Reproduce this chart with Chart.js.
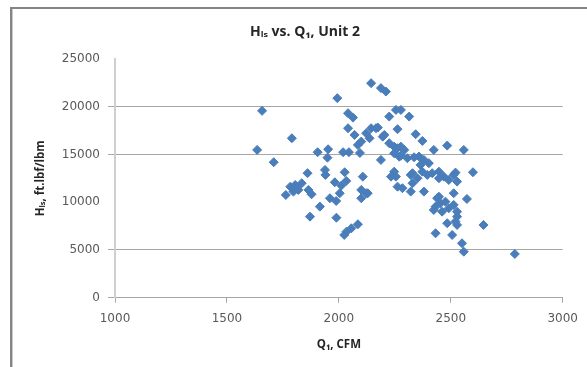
<!DOCTYPE html>
<html>
<head>
<meta charset="utf-8">
<script src="https://cdn.jsdelivr.net/npm/chart.js@4"></script>
<style>
  html, body { margin: 0; padding: 0; background: #ffffff; }
  #c { display: block; }
</style>
</head>
<body>
<canvas id="c" width="587" height="367"></canvas>
<script>
const chartTitle = 'Hₗₛ vs. Q₁, Unit 2';
const xAxisTitle = 'Q₁, CFM';
const yAxisTitle = 'Hₗₛ, ft.lbf/lbm';

const xTicks = [1000, 1500, 2000, 2500, 3000];
const yTicks = [0, 5000, 10000, 15000, 20000, 25000];

const q1Cfm = [
  1635, 1657, 1709, 1790, 1763, 1783, 1797, 1805, 1819, 1834,
  1860, 1864, 1878, 1871, 1905, 1915, 1938, 1940, 1949, 1952,
  1960, 1982, 1988, 1989, 1993, 2004, 2011, 2019, 2026, 2033,
  2041, 2041, 2045, 2063, 2070, 2085, 2100, 2094, 2107, 2100,
  2122, 2100, 2085, 2056, 2034, 2024, 2144, 2188, 2210, 2144,
  2174, 2122, 2137, 2196, 2225, 2247, 2262, 2277, 2292, 2188,
  2247, 2277, 2306, 2255, 2277, 2314, 2225, 2262, 2343, 2373,
  2358, 2380, 2365, 2402, 2424, 2484, 2558, 2373, 2395, 2417,
  2447, 2447, 2469, 2491, 2513, 2528, 2521, 2599, 2247, 2255,
  2321, 2329, 2262, 2284, 2321, 2380, 2513, 2572, 2439, 2454,
  2476, 2432, 2424, 2461, 2491, 2513, 2528, 2528, 2521, 2528,
  2484, 2432, 2506, 2550, 2558, 2646, 2786, 2129, 2233, 2329,
  2351, 2166, 2203, 2336, 2270, 2447
];
const hlsHead = [
  15480, 19570, 14190, 16700, 10760, 11630, 11110, 11810, 11290, 11990,
  13040, 11290, 10830, 8490, 15240, 9540, 13380, 12860, 14670, 15550,
  10420, 12090, 10130, 8380, 20900, 10940, 11740, 15240, 13140, 12230,
  19320, 17750, 15240, 18860, 17050, 16000, 16350, 15160, 12680, 11290,
  10940, 10420, 7690, 7270, 6920, 6570, 22470, 21950, 21590, 17750,
  17820, 17230, 16700, 16870, 16180, 15820, 15660, 15820, 15480, 14430,
  15130, 14880, 14610, 19670, 19670, 18970, 18970, 17650, 17120, 16420,
  14780, 14430, 13910, 14090, 15480, 15930, 15480, 13200, 12860, 13040,
  13200, 12510, 12680, 12330, 12860, 12160, 13100, 13140, 13200, 12680,
  12860, 11990, 11630, 11470, 11110, 11110, 10940, 10340, 10420, 9890,
  10060, 9540, 9190, 9010, 9370, 9720, 9010, 8490, 7970, 7620,
  7800, 6750, 6570, 5700, 4820, 7620, 4580, 10940, 12680, 13040,
  12510, 17750, 17050, 14710, 14770, 10580
];

const points = q1Cfm.map((q, i) => ({ x: q, y: hlsHead[i] }));

const frameLines = {
  id: 'frameLines',
  beforeDraw(chart) {
    const ctx = chart.ctx;
    ctx.save();
    ctx.fillStyle = '#ffffff';
    ctx.fillRect(0, 0, chart.width, chart.height);
    ctx.fillStyle = '#858585';
    ctx.fillRect(10, 7, chart.width - 10, 2);
    ctx.fillRect(10, 7, 2, chart.height - 7);
    ctx.fillStyle = '#c8c8c8';
    ctx.fillRect(12, 9, 1, chart.height - 9);
    ctx.restore();
  }
};

const hiddenGrid = [10000, 25000];

new Chart(document.getElementById('c'), {
  type: 'scatter',
  data: {
    datasets: [{
      label: 'Hls',
      data: points,
      pointStyle: 'rectRot',
      pointRadius: 4.5,
      pointBorderWidth: 1,
      backgroundColor: '#4A7EBB',
      borderColor: '#4A7EBB'
    }]
  },
  options: {
    responsive: false,
    devicePixelRatio: 1,
    animation: false,
    events: [],
    layout: { padding: { left: 44, right: 21, top: 0, bottom: 0 } },
    plugins: {
      legend: { display: false },
      tooltip: { enabled: false },
      title: {
        display: true,
        text: chartTitle,
        color: '#262626',
        font: { family: 'Open Sans', size: 14, weight: 'bold', lineHeight: 1.2 },
        padding: { top: 24, bottom: 18.2 }
      }
    },
    scales: {
      x: {
        type: 'linear',
        min: xTicks[0],
        max: xTicks[xTicks.length - 1],
        afterBuildTicks(scale) { scale.ticks = xTicks.map(v => ({ value: v })); },
        afterFit(scale) { scale.height = 69.3; },
        grid: {
          display: true,
          drawOnChartArea: false,
          drawTicks: true,
          tickLength: 5,
          color: '#a6a6a6'
        },
        border: { display: true, color: '#a6a6a6', width: 1 },
        ticks: {
          color: '#595959',
          padding: 9,
          maxRotation: 0,
          callback: (v) => String(v),
          font: { family: 'DejaVu Sans', size: 12 }
        },
        title: {
          display: true,
          text: xAxisTitle,
          color: '#262626',
          font: { family: 'Open Sans', size: 11.5, weight: 'bold', lineHeight: 1.2 },
          padding: { top: 0, bottom: 15.4 }
        }
      },
      y: {
        type: 'linear',
        min: yTicks[0],
        max: yTicks[yTicks.length - 1],
        afterBuildTicks(scale) { scale.ticks = yTicks.map(v => ({ value: v })); },
        afterFit(scale) { scale.width = 71; },
        grid: {
          display: true,
          drawTicks: true,
          tickLength: 7,
          lineWidth: 1,
          color: (ctx) => (ctx.tick && hiddenGrid.includes(ctx.tick.value)) ? 'rgba(0,0,0,0)' : '#a6a6a6'
        },
        border: { display: true, color: '#cfcfcf', width: 2 },
        ticks: {
          color: '#595959',
          padding: 8,
          callback: (v) => String(v),
          font: { family: 'DejaVu Sans', size: 12 }
        },
        title: {
          display: true,
          text: yAxisTitle,
          color: '#262626',
          font: { family: 'Open Sans', size: 11.5, weight: 'bold', lineHeight: 1.2 },
          padding: { top: -9.9, bottom: 0 }
        }
      }
    }
  },
  plugins: [frameLines]
});
</script>
</body>
</html>
